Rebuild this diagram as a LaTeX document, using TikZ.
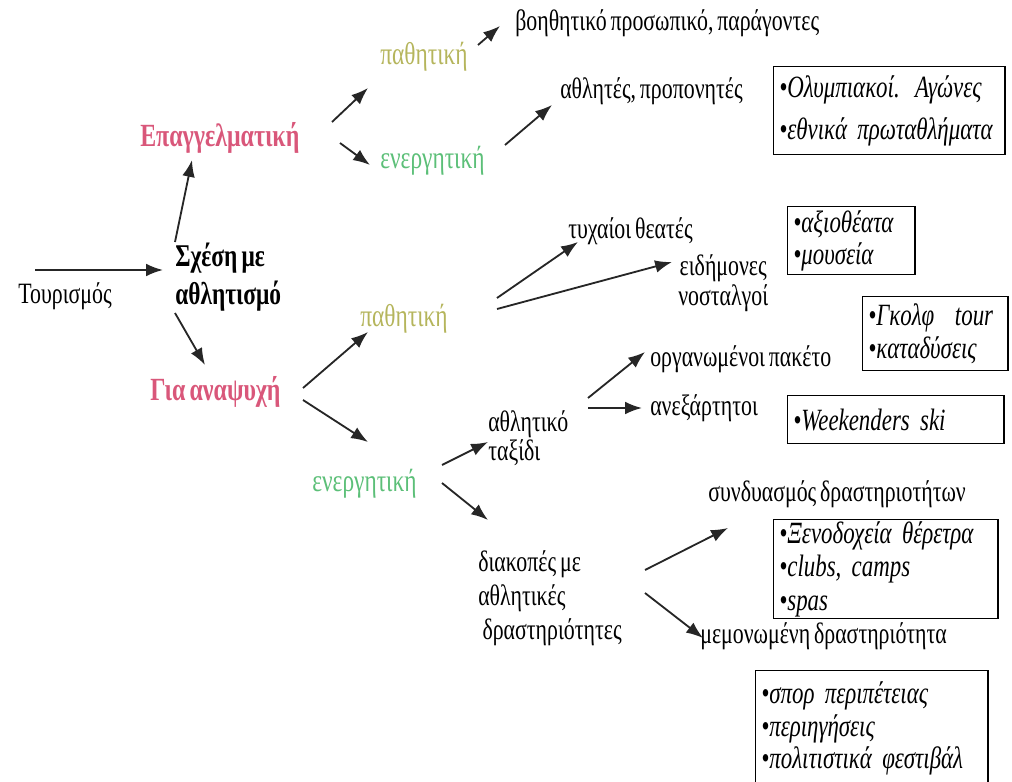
\documentclass[tikz,border=0pt]{standalone}
\usepackage{fontspec}
\setmainfont{Liberation Serif}[FakeStretch=0.74, WordSpace=0.7, ItalicFeatures={WordSpace=0.45}]
\usetikzlibrary{arrows.meta,calc}
\definecolor{headpink}{HTML}{D9577A}
\definecolor{passolive}{HTML}{B5B55C}
\definecolor{actgreen}{HTML}{5CBF78}
\tikzset{
lbl/.style = {inner sep = 0pt, anchor = west, align = left, font = \fontsize{21}{#1}\selectfont},
lbl/.default = 27,
strong/.style = {font = \fontsize{22.5}{27}\selectfont\bfseries},
head/.style = {text = headpink, font = \fontsize{23}{27}\selectfont\bfseries},
passive/.style = {text = passolive, font = \fontsize{22.5}{27}\selectfont},
active/.style = {text = actgreen, font = \fontsize{22.5}{27}\selectfont},
bx/.style = {draw, line width = 1pt, anchor = north west, align = left, inner xsep = 4pt, inner ysep = 0pt, font = \fontsize{22}{#1}\selectfont\itshape},
bx/.default = 24,
arr/.style = {-{Latex[length = 12pt, width = 9pt]}, line width = 1.3pt, draw = black!85}
}

\begin{document}
\begin{tikzpicture}[x = 0.025cm, y = -0.025cm]
\useasboundingbox (0,0) rectangle (1012,782);
\clip (0,0) rectangle (1012,782);
% Root
\node[lbl] (tour) at (18,296) {Τουρισμός};
\node[lbl, strong] (sxesi) at (175,277) {Σχέση με\\αθλητισμό};
\node[lbl, head] (epag) at (140,138) {Επαγγελματική};
\node[lbl, head] (anaps) at (150,392) {Για αναψυχή};
% Professional branch
\node[lbl, passive] (path1) at (380,57) {παθητική};
\node[lbl, active] (energ1) at (380,161) {ενεργητική};
\node[lbl] (voith) at (515,23) {βοηθητικό προσωπικό, παράγοντες};
\node[lbl] (athl) at (560,91) {αθλητές, προπονητές};
\node[bx = 30, text width = 5.5cm, minimum height = 2.2cm] (olymp) at (773,66) {•Ολυμπιακοί. Αγώνες\\•εθνικά πρωταθλήματα};
% Leisure, passive
\node[lbl, passive] (path2) at (360,319) {παθητική};
\node[lbl] (tyx) at (568,231) {τυχαίοι θεατές};
\node[lbl = 21, align = center] (eid) at (678,283) {ειδήμονες\\νοσταλγοί};
\node[bx = 23, text width = 2.9cm, minimum height = 1.7cm] (sights) at (787,206) {•αξιοθέατα\\•μουσεία};
\node[bx = 24, text width = 3.35cm, minimum height = 1.85cm] (golf) at (862,296) {•Γκολφ\ \ tour\\•καταδύσεις};
% Leisure, active
\node[lbl, active] (energ2) at (312,484) {ενεργητική};
\node[lbl = 21] (athtax) at (488,438) {αθλητικό\\ταξίδι};
\node[lbl] (org) at (650,359) {οργανωμένοι πακέτο};
\node[lbl] (anex) at (650,408) {ανεξάρτητοι};
\node[bx, text width = 5.125cm, minimum height = 1.2cm] (ski) at (787,395) {•Weekenders ski};
\node[lbl = 24] (diak) at (478,598) {διακοπές με\\αθλητικές\\\hspace{3pt}δραστηριότητες};
\node[lbl] (synd) at (708,494) {συνδυασμός δραστηριοτήτων};
\node[bx = 24, text width = 5.325cm, minimum height = 2.475cm] (hotel) at (773,519) {•Ξενοδοχεία θέρετρα\\•clubs, camps\\•spas};
\node[lbl] (memon) at (700,636) {μεμονωμένη δραστηριότητα};
\node[bx = 23, text width = 5.525cm, minimum height = 2.9cm] (sport) at (755,670) {•σπορ περιπέτειας\\•περιηγήσεις\\•πολιτιστικά φεστιβάλ};
% Arrows
\draw[arr] ($(tour.west)+(17,-26)$) -- ($(sxesi.west)+(-12,-7)$);
\draw[arr] ($(sxesi.west)+(0,-35)$) -- ($(epag.west)+(52,22)$);
\draw[arr] ($(sxesi.west)+(0,36)$) -- ($(anaps.west)+(55,-27)$);
\draw[arr] ($(epag.west)+(192,-16)$) -- ($(path1.west)+(-12,31)$);
\draw[arr] ($(epag.west)+(200,5)$) -- ($(energ1.west)+(-10,4)$);
\draw[arr] ($(path1.west)+(98,-12)$) -- ($(voith.west)+(-15,3)$);
\draw[arr] ($(energ1.west)+(125,-16)$) -- ($(athl.west)+(-8,14)$);
\draw[arr] ($(anaps.west)+(153,-4)$) -- ($(path2.west)+(8,13)$);
\draw[arr] ($(anaps.west)+(153,8)$) -- ($(energ2.west)+(56,-42)$);
\draw[arr] ($(path2.west)+(137,-21)$) -- ($(tyx.west)+(10,11)$);
\draw[arr] ($(path2.west)+(137,-10)$) -- ($(eid.west)+(-6,-21)$);
\draw[arr] ($(energ2.west)+(130,-19)$) -- ($(athtax.west)+(0,4)$);
\draw[arr] ($(energ2.west)+(130,-1)$) -- ($(diak.west)+(10,-78)$);
\draw[arr] ($(athtax.west)+(100,-40)$) -- ($(org.west)+(-5,-7)$);
\draw[arr] ($(athtax.west)+(100,-30)$) -- ($(anex.west)+(-8,0)$);
\draw[arr] ($(diak.west)+(167,-28)$) -- ($(synd.west)+(20,34)$);
\draw[arr] ($(diak.west)+(167,-5)$) -- ($(memon.west)+(3,2)$);
\end{tikzpicture}
\end{document}
